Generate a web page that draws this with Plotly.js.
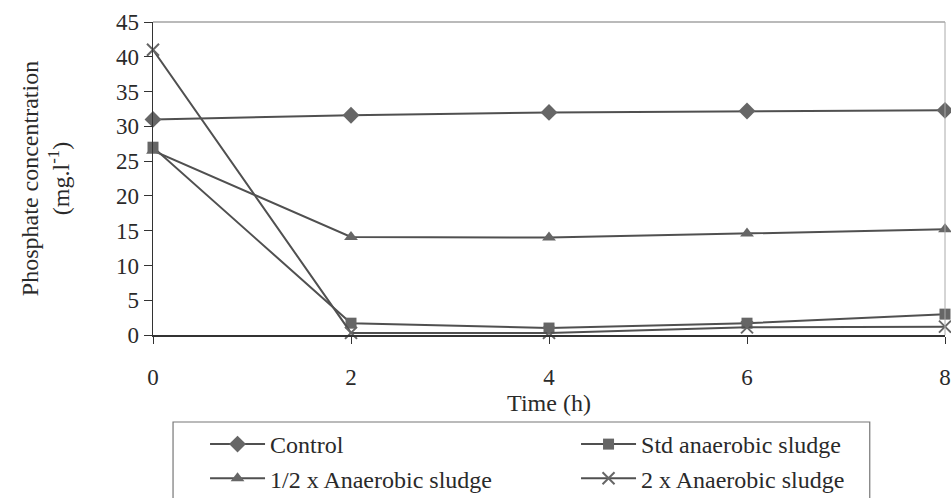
<!DOCTYPE html>
<html>
<head>
<meta charset="utf-8">
<script src="https://cdn.plot.ly/plotly-3.0.1.min.js"></script>
<style>html,body{margin:0;padding:0;background:#fff;}#chart{width:951px;height:498px;}</style>
</head>
<body>
<div id="chart"></div>
<script>
const timeH = [0, 2, 4, 6, 8];
const control = [31.0, 31.6, 32.0, 32.2, 32.3];
const stdSludge = [27.0, 1.7, 1.0, 1.7, 3.0];
const halfSludge = [26.5, 14.1, 14.0, 14.6, 15.2];
const doubleSludge = [41.0, 0.3, 0.3, 1.1, 1.2];
const seriesNames = ["Control", "Std anaerobic sludge", "1/2 x Anaerobic sludge", "2 x Anaerobic sludge"];
const yTicks = [0, 5, 10, 15, 20, 25, 30, 35, 40, 45];
const xTicks = [0, 2, 4, 6, 8];

const col = "#505050";
const mcol = "#666666";
function tr(y, name, sym, size) {
  return {x: timeH, y: y, name: name, type: "scatter", mode: "lines+markers",
    line: {color: col, width: 2}, marker: {symbol: sym, size: size, color: mcol, line: {color: mcol, width: sym === "x-thin" ? 2 : 0}},
    cliponaxis: false};
}
const data = [
  tr(control, seriesNames[0], "diamond", 13),
  tr(stdSludge, seriesNames[1], "square", 11),
  tr(halfSludge, seriesNames[2], "triangle-up", 12),
  tr(doubleSludge, seriesNames[3], "x-thin", 12)
];
const font = {family: "Liberation Serif, Times New Roman, serif", size: 23, color: "#2a2a2a"};
const layout = {
  width: 951, height: 498,
  margin: {l: 153, r: 6, t: 22, b: 163},
  paper_bgcolor: "#fff", plot_bgcolor: "#fff",
  font: font,
  showlegend: true,
  xaxis: {range: [0, 8], tickvals: xTicks, ticktext: xTicks.map(String),
    showgrid: false, zeroline: false, showline: true, linecolor: "#333", linewidth: 1.5,
    ticks: "outside", ticklen: 7, tickcolor: "#333", ticklabelstandoff: 14,
    title: {text: "Time (h)", font: {size: 24}, standoff: 0}, automargin: false, fixedrange: true},
  yaxis: {range: [0, 45], tickvals: yTicks, ticktext: yTicks.map(String),
    showgrid: false, zeroline: false, showline: true, linecolor: "#333", linewidth: 1.5,
    ticks: "outside", ticklen: 8, tickcolor: "#333",
    title: {text: "Phosphate concentration<br>(mg.l<sup>-1</sup>)", font: {size: 24}, standoff: 39},
    automargin: false, fixedrange: true},
  shapes: [
    {type: "line", xref: "paper", yref: "paper", x0: 0, x1: 1, y0: 1, y1: 1, line: {color: "#777", width: 1.2}},
    {type: "line", xref: "paper", yref: "paper", x0: 1, x1: 1, y0: 0, y1: 1, line: {color: "#aaa", width: 1}},
    {type: "rect", xref: "paper", yref: "paper", x0: 0.0253, x1: 0.905, y0: -0.278, y1: -0.53,
      line: {color: "#777", width: 1.2}, fillcolor: "rgba(0,0,0,0)"}
  ],
  legend: {orientation: "h", xref: "container", yref: "container", x: 0.2156, y: 0.1526,
    xanchor: "left", yanchor: "top", bgcolor: "rgba(0,0,0,0)",
    borderwidth: 0, entrywidth: 301, entrywidthmode: "pixels",
    font: {size: 24}, traceorder: "normal", itemwidth: 55}
};
Plotly.newPlot("chart", data, layout, {displayModeBar: false, staticPlot: true});
</script>
</body>
</html>
